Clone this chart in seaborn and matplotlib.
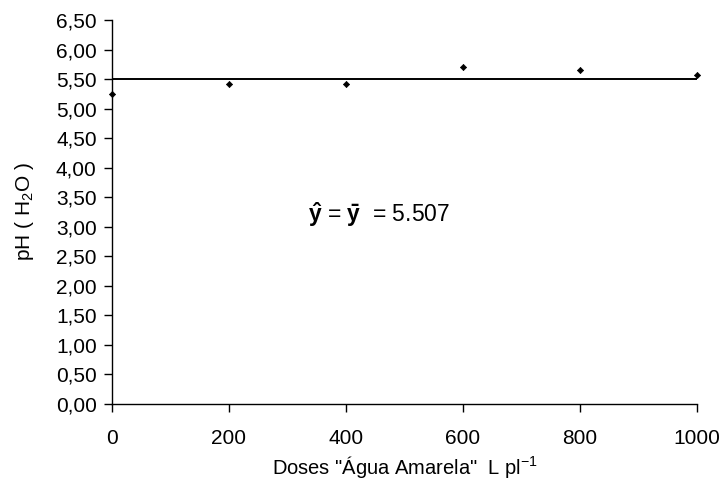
import matplotlib
matplotlib.use("Agg")
import matplotlib.pyplot as plt
import seaborn as sns
import pandas as pd

# Soil pH (H2O) under increasing doses of "Água Amarela"
doses = [0, 200, 400, 600, 800, 1000]
ph_values = [5.25, 5.41, 5.41, 5.70, 5.66, 5.57]
mean_ph = 5.507
y_ticks = [0.0, 0.5, 1.0, 1.5, 2.0, 2.5, 3.0, 3.5, 4.0, 4.5, 5.0, 5.5, 6.0, 6.5]
x_ticks = [0, 200, 400, 600, 800, 1000]

sns.set_theme(style="white")
plt.rcParams["font.family"] = ["Liberation Sans", "DejaVu Sans"]
plt.rcParams["mathtext.fontset"] = "custom"
plt.rcParams["mathtext.rm"] = "Liberation Sans"
plt.rcParams["mathtext.bf"] = "Liberation Sans:bold"
plt.rcParams["mathtext.it"] = "Liberation Sans:italic"

df = pd.DataFrame({"dose": doses, "ph": ph_values})

fig = plt.figure(figsize=(7.24, 4.99), dpi=100)
ax = fig.add_axes([112 / 724, 1 - 404 / 499, (697 - 112) / 724, (404 - 20) / 499])

# Fitted mean line
sns.lineplot(x=[doses[0], doses[-1]], y=[mean_ph, mean_ph], ax=ax,
             color="black", linewidth=1.4, zorder=2)
# Observed values
sns.scatterplot(data=df, x="dose", y="ph", ax=ax, marker="D", s=10,
                color="black", edgecolor="black", linewidth=0.5,
                zorder=3, clip_on=False)

ax.set_xlim(0, 1000)
ax.set_ylim(0, 6.5)
ax.set_xticks(x_ticks)
ax.set_xticklabels([str(t) for t in x_ticks])
ax.set_yticks(y_ticks)
ax.set_yticklabels([f"{t:.2f}".replace(".", ",") for t in y_ticks])

for side in ["top", "right"]:
    ax.spines[side].set_visible(False)
for side in ["left", "bottom"]:
    ax.spines[side].set_color("black")
    ax.spines[side].set_linewidth(1.0)

ax.tick_params(axis="both", which="major", direction="out", length=6,
               width=1.0, color="black", labelsize=15, labelcolor="black",
               left=True, bottom=True)
ax.tick_params(axis="x", pad=12)
ax.tick_params(axis="y", pad=5)

ax.set_xlabel('Doses "Água Amarela"  L pl$^{-1}$', fontsize=14.5, color="black",
              labelpad=4)
ax.set_ylabel("pH ( H$_2$O )", fontsize=15, color="black", labelpad=14)

ax.text(335, 3.2, r"$\mathbf{\hat{y}}$ = $\mathbf{\bar{y}}$  = 5.507",
        fontsize=16.5, color="black", ha="left", va="center")

fig.savefig("out.png", dpi=100, facecolor="white")
